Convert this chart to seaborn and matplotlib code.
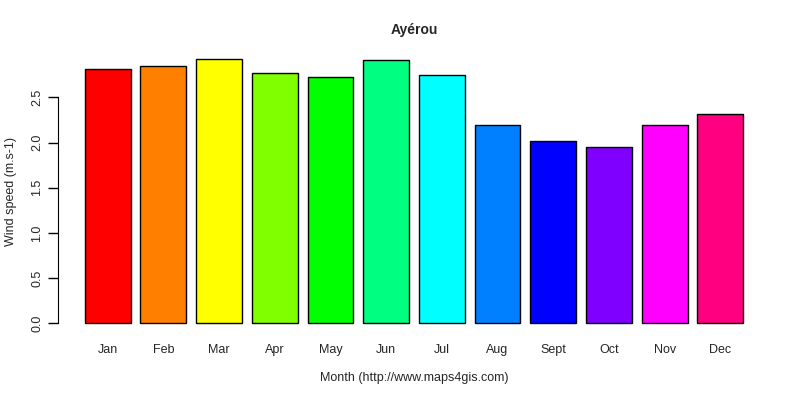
import numpy as np
import pandas as pd
import matplotlib
matplotlib.use("Agg")
import matplotlib.pyplot as plt
import seaborn as sns

months = ["Jan", "Feb", "Mar", "Apr", "May", "Jun", "Jul", "Aug", "Sept", "Oct", "Nov", "Dec"]
wind = [2.81, 2.85, 2.93, 2.77, 2.73, 2.91, 2.75, 2.20, 2.02, 1.95, 2.20, 2.32]
colors = ["#FF0000", "#FF8000", "#FFFF00", "#80FF00", "#00FF00", "#00FF80",
          "#00FFFF", "#0080FF", "#0000FF", "#8000FF", "#FF00FF", "#FF0080"]
yticks = [0.0, 0.5, 1.0, 1.5, 2.0, 2.5]

sns.set_style("white")
plt.rcParams['font.family'] = ['Liberation Sans', 'DejaVu Sans']

df = pd.DataFrame({"month": months, "wind": wind})

fig = plt.figure(figsize=(8, 4), dpi=100)
ax = fig.add_axes([0.073, 0.165, 0.889, 0.715])
sns.barplot(data=df, x="month", y="wind", hue="month", palette=colors, legend=False,
            width=0.823, edgecolor="black", linewidth=1, saturation=1, ax=ax)

ax.set_xlim(-0.885, 11.885)
ax.set_ylim(-0.117, 3.047)
for s in ["top", "right", "bottom"]:
    ax.spines[s].set_visible(False)
ax.spines["left"].set_bounds(0, 2.5)
ax.spines["left"].set_color("black")
ax.set_yticks(yticks)
ax.set_yticklabels([f"{v:.1f}" for v in yticks], rotation=90, va="center", fontsize=9)
ax.tick_params(axis="y", length=7, width=1, color="black", pad=4, left=True)
ax.tick_params(axis="x", length=0, pad=7, labelsize=9)
ax.set_xlabel("Month (http://www.maps4gis.com)", fontsize=9, labelpad=12)
ax.set_ylabel("Wind speed (m.s-1)", fontsize=9, labelpad=10)
ax.set_title("Ayérou", fontsize=10, fontweight="bold", pad=10)

fig.savefig("out.png", dpi=100)
